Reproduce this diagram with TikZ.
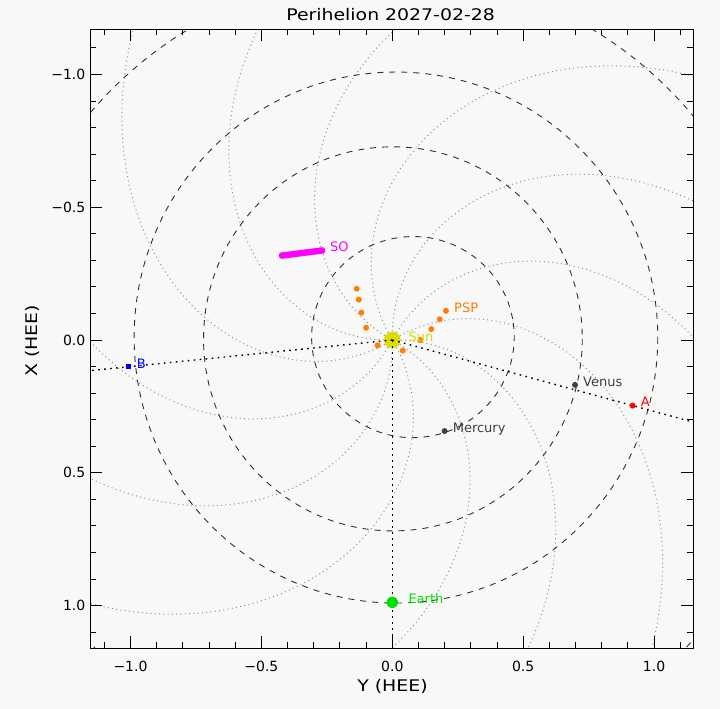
\documentclass[tikz,border=0pt]{standalone}
\usepackage{fontspec}
\setmainfont{DejaVu Sans}
\usepackage{graphicx}
\usetikzlibrary{calc}
\definecolor{bg}{HTML}{F8F8F8}
\definecolor{orbgray}{HTML}{303030}
\definecolor{spgray}{HTML}{8C8C8C}
\definecolor{plgray}{HTML}{404040}
\definecolor{sunyel}{HTML}{DCDC00}
\definecolor{pspor}{HTML}{FF7F00}
\definecolor{somag}{HTML}{FF00FF}
\definecolor{earthgr}{HTML}{00E000}
\newcommand{\wtxt}[1]{\scalebox{1.18}[1]{#1}}
\tikzset{
  orbit/.style={orbgray,line width=0.9pt,dash pattern=on 6pt off 6pt},
  spiral/.style={spgray,line width=1pt,dash pattern=on 1pt off 3.3pt},
  los/.style={black,line width=1.4pt,dash pattern=on 1.6pt off 4.4pt},
  tck/.style={black,line width=0.9pt},
  body/.style={circle,inner sep=0pt,minimum size=6pt},
  lbl/.style={anchor=base west,inner sep=0pt,font=\fontsize{13}{13}\selectfont,xshift=8pt,yshift=-1.3pt},
  ticklbl/.style={inner sep=0pt,font=\fontsize{14}{14}\selectfont},
  axlbl/.style={anchor=base,inner sep=0pt,font=\fontsize{16}{16}\selectfont},
}
\begin{document}
\begin{tikzpicture}[x=1pt,y=-1pt]
  \useasboundingbox (0,0) rectangle (720,709);
  \fill[bg] (0,0) rectangle (720,709);
  \begin{scope}
    \clip (90.3,29.3) rectangle (693.4,648);
    % data frame: (Y,X) in AU, X pointing down
    \begin{scope}[shift={(392.3,340)},x={(261.8pt,0pt)},y={(0pt,-265.5pt)}]
      % parker spirals
      \foreach \k in {0,...,11}
        \draw[spiral] plot[domain=0:1.9,samples=90,variable=\rr] ({30*\k-1.5+53.05*\rr}:\rr);
      % planet orbits
      \draw[orbit,rotate=8] (0.0796,0) ellipse [x radius=0.387,y radius=0.3787];
      \draw[orbit] (0.0023,-0.0043) ellipse [x radius=0.7233,y radius=0.7233];
      \draw[orbit] (0.0139,-0.0093) ellipse [x radius=1,y radius=1];
      \draw[orbit] (-0.0074,0.1421) ellipse [x radius=1.517,y radius=1.5237];
      \coordinate (sunc) at (0,0);
      \coordinate (apos) at (0.918,0.247);
      \coordinate (bpos) at (-1.007,0.1006);
      \coordinate (epos) at (0,0.988);
      \node[body,fill=sunyel,minimum size=16.6pt] (sun) at (sunc) {};
      % lines of sight
      \draw[los] (sun.center) -- ($(sun.center)!3!(bpos)$);
      \draw[los] (sun.center) -- ($(sun.center)!3!(apos)$);
      \draw[los] (sun.center) -- ($(sun.center)!3!(epos)$);
      % PSP track
      \foreach \yy/\xx [count=\i] in {-0.136/-0.193,-0.128/-0.152,-0.118/-0.103,-0.100/-0.046,-0.056/0.020,
          0.040/0.040,0.107/0.000,0.149/-0.041,0.181/-0.078,0.205/-0.110}
        \node[body,fill=pspor] (psp\i) at (\yy,\xx) {};
      % SO track
      \coordinate (so0) at (-0.421,-0.318);
      \coordinate (so1) at (-0.2685,-0.337);
      \foreach \i in {0,...,16}
        \fill[somag] ($(so0)!\i/16!(so1)$) circle (3.4pt);
      \node[body,fill=plgray] (mercury) at (0.1998,0.343) {};
      \node[body,fill=plgray] (venus) at (0.698,0.169) {};
      \node[body,fill=red] (scA) at (apos) {};
      \node[body,rectangle,fill=blue,minimum size=5.3pt] (scB) at (bpos) {};
      \node[body,fill=earthgr,minimum size=11.4pt] (earth) at (epos) {};
      \node[lbl,sunyel,xshift=8pt] (sunlbl) at (sun.center) {Sun};
      \node[lbl,pspor] (psplbl) at (psp10.center) {PSP};
      \node[lbl,somag] (solbl) at (so1) {SO};
      \node[lbl,plgray] (merclbl) at (mercury.center) {Mercury};
      \node[lbl,plgray] (venlbl) at (venus.center) {Venus};
      \node[lbl,red] (albl) at (scA.center) {A};
      \node[lbl,blue] (blbl) at (scB.center) {B};
      \node[lbl,earthgr,xshift=8pt] (earthlbl) at (earth.center) {Earth};
    \end{scope}
  \end{scope}
  % frame and ticks
  \draw[tck] (90.3,29.3) rectangle (693.4,648);
  \foreach \t in {-11,...,11}{
    \pgfmathsetmacro{\len}{mod(\t,5)==0 ? 12 : 6}
    \draw[tck] (392.3+26.18*\t,648) -- ++(0,-\len);
    \draw[tck] (392.3+26.18*\t,29.3) -- ++(0,\len);
    \draw[tck] (90.3,340+26.55*\t) -- ++(\len,0);
    \draw[tck] (693.4,340+26.55*\t) -- ++(-\len,0);
  }
  \foreach \v/\s [count=\i] in {-1/−1.0,-0.5/−0.5,0/0.0,0.5/0.5,1/1.0}{
    \node[ticklbl] (ylab\i) at (392.3+261.8*\v,666.7) {\s};
    \node[ticklbl,anchor=east] (xlab\i) at (85.5,340+265.5*\v) {\s};
  }
  \node[axlbl] (title) at (390.6,21) {\wtxt{Perihelion 2027-02-28}};
  \node[axlbl] (yaxis) at (392.5,691.5) {\wtxt{Y (HEE)}};
  \node[axlbl,rotate=90] (xaxis) at (37.5,340.7) {\wtxt{X (HEE)}};
\end{tikzpicture}
\end{document}
